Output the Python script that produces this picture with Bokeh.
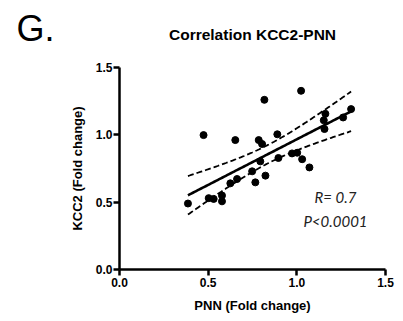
import numpy as np
from bokeh.plotting import figure
from bokeh.layouts import column
from bokeh.models import Range1d, Label, FixedTicker, NumeralTickFormatter
from bokeh.core.properties import value
from bokeh.embed import file_html
from bokeh.resources import INLINE

# Data
pnn = [0.386, 0.474, 0.503, 0.531, 0.578, 0.578, 0.625, 0.663, 0.653, 0.748,
       0.766, 0.785, 0.804, 0.794, 0.823, 0.817, 0.890, 0.896, 0.973, 1.002,
       1.030, 1.071, 1.024, 1.161, 1.152, 1.156, 1.261, 1.306]
kcc2 = [0.490, 0.998, 0.530, 0.524, 0.549, 0.506, 0.640, 0.672, 0.961, 0.729,
        0.647, 0.961, 0.932, 0.803, 0.697, 1.260, 1.004, 0.828, 0.862, 0.867,
        0.819, 0.758, 1.327, 1.156, 1.108, 1.043, 1.129, 1.191]
ticks = [0.0, 0.5, 1.0, 1.5]
title_text = "Correlation KCC2-PNN"
panel_text = "G."
x_label = "PNN (Fold change)"
y_label = "KCC2 (Fold change)"
stat_r = "R= 0.7"
stat_p = "P<0.0001"

x = np.array(pnn)
y = np.array(kcc2)
n = len(x)
slope, intercept = np.polyfit(x, y, 1)
xs = np.linspace(x.min(), x.max(), 100)
ys = slope * xs + intercept
resid = y - (slope * x + intercept)
s = np.sqrt(np.sum(resid ** 2) / (n - 2))
sxx = np.sum((x - x.mean()) ** 2)
t_crit = 2.056  # t(0.975, df=26)
se = s * np.sqrt(1.0 / n + (xs - x.mean()) ** 2 / sxx)
upper = ys + t_crit * se
lower = ys - t_crit * se

# Header strip holding the panel letter and the chart title
head = figure(width=403, height=60, output_backend="svg", toolbar_location=None,
              x_range=Range1d(0, 403), y_range=Range1d(0, 60),
              x_axis_location=None, y_axis_location=None,
              min_border=0)
head.outline_line_color = None
head.grid.visible = False
try:
    head.frame_align = False
except Exception:
    pass
head.text(x=[252], y=[26.5], text=[title_text], text_align="center",
          text_baseline="middle", text_font=value("Liberation Sans"),
          text_font_style="bold", text_font_size=value("15.5px"),
          text_color="black")
head.text(x=[16], y=[32.5], text=[panel_text], text_align="left",
          text_baseline="middle", text_font=value("Liberation Sans"),
          text_font_style="normal", text_font_size=value("36px"),
          text_color="black")

p = figure(width=403, height=261, output_backend="svg", toolbar_location=None,
           x_range=Range1d(0, 1.5), y_range=Range1d(0, 1.5),
           min_border_left=119, min_border_right=18, min_border_top=7,
           min_border_bottom=52)
p.outline_line_color = None
p.grid.visible = False
p.background_fill_color = "white"
p.border_fill_color = "white"
try:
    p.frame_align = False
except Exception:
    pass

for ax in (p.xaxis[0], p.yaxis[0]):
    ax.ticker = FixedTicker(ticks=ticks)
    ax.formatter = NumeralTickFormatter(format="0.0")
    ax.axis_line_width = 2.5
    ax.axis_line_color = "black"
    ax.major_tick_line_width = 2.5
    ax.major_tick_line_color = "black"
    ax.major_tick_out = 6
    ax.major_tick_in = 0
    ax.minor_tick_line_color = None
    ax.major_label_text_font = "Liberation Sans"
    ax.major_label_text_font_style = "bold"
    ax.major_label_text_font_size = "12px"
    ax.major_label_text_color = "black"
    ax.axis_label_text_font = "Liberation Sans"
    ax.axis_label_text_font_style = "bold"
    ax.axis_label_text_font_size = "13px"
    ax.axis_label_text_color = "black"

p.xaxis.axis_label = x_label
p.yaxis.axis_label = y_label
p.xaxis.major_label_standoff = 2
p.yaxis.major_label_standoff = 1
p.xaxis.axis_label_standoff = 8
p.yaxis.axis_label_standoff = 8

p.line(xs, upper, line_color="black", line_width=1.8, line_dash="6 3")
p.line(xs, lower, line_color="black", line_width=1.8, line_dash="6 3")
p.line(xs, ys, line_color="black", line_width=2.6)
p.scatter(pnn, kcc2, size=7, color="black")

p.add_layout(Label(x=1.218, y=0.541, text=stat_r, text_align="center",
                   text_baseline="middle", text_font="Lato",
                   text_font_style="italic", text_font_size="15px",
                   text_color="#222222"))
p.add_layout(Label(x=1.218, y=0.358, text=stat_p, text_align="center",
                   text_baseline="middle", text_font="Lato",
                   text_font_style="italic", text_font_size="15px",
                   text_color="#222222"))

layout = column(head, p, spacing=0)
open("out.html", "w").write(file_html(layout, INLINE))
